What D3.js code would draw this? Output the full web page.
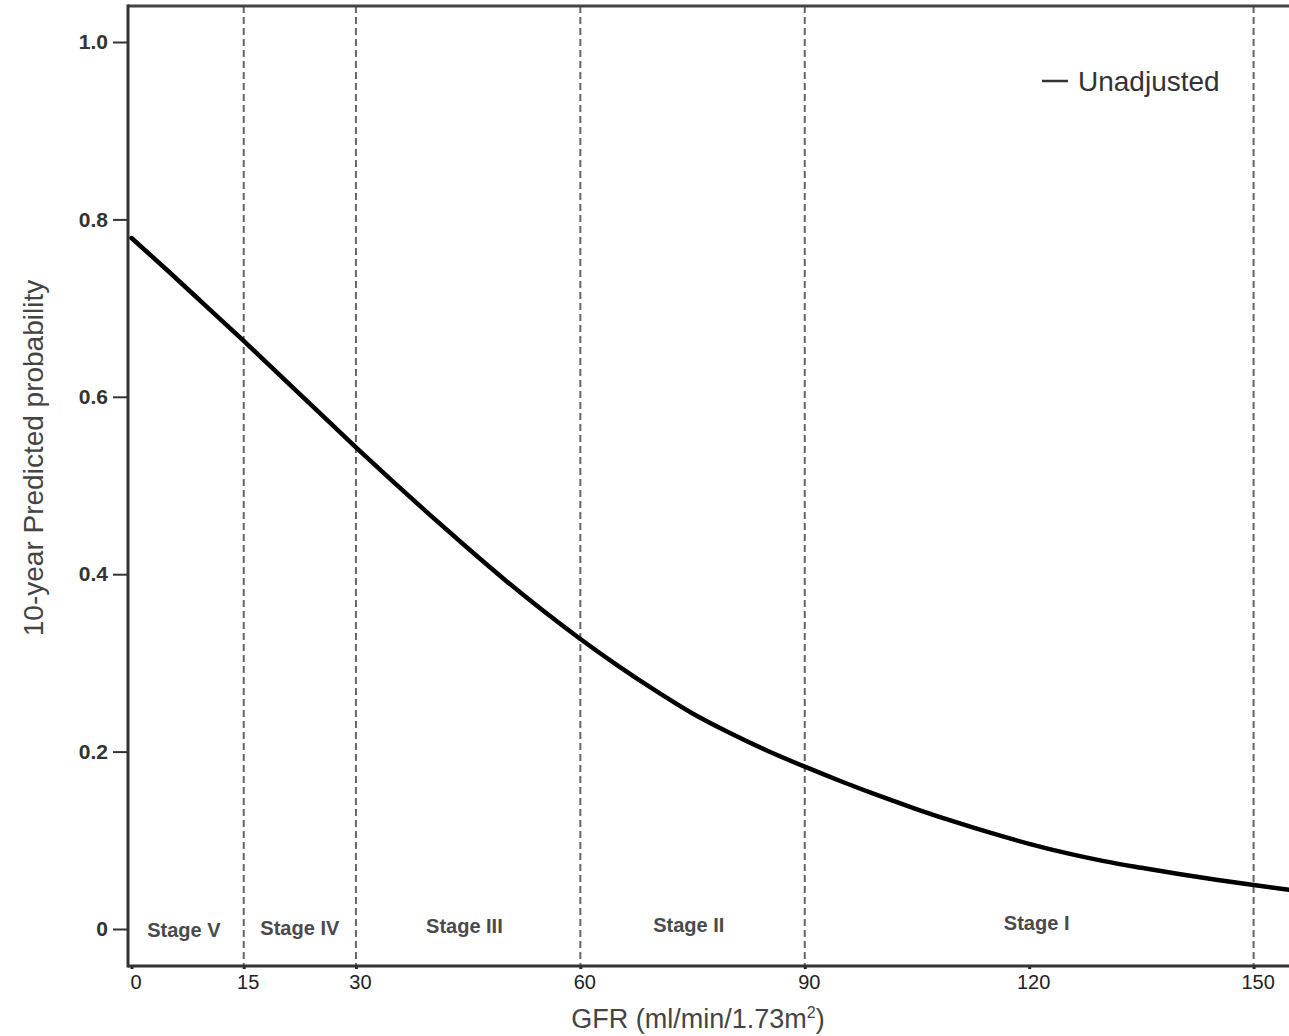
<!DOCTYPE html>
<html>
<head>
<meta charset="utf-8">
<script src="https://cdn.jsdelivr.net/npm/d3@7/dist/d3.min.js"></script>
<style>
  html, body { margin: 0; padding: 0; background: #fff; }
  svg { display: block; }
  text { font-family: "Liberation Sans", Arial, sans-serif; }
</style>
</head>
<body>
<svg id="chart" width="1289" height="1036"></svg>
<script>
// ---- Data ----
const gfr = [0, 5, 10, 15, 20, 25, 30, 35, 40, 45, 50, 55, 60, 65, 70, 75, 80, 85, 90, 95, 100, 105, 110, 115, 120, 125, 130, 135, 140, 145, 150, 155];
const unadjusted = [0.779, 0.741, 0.702, 0.663, 0.623, 0.583, 0.543, 0.504, 0.466, 0.429, 0.393, 0.359, 0.327, 0.297, 0.269, 0.243, 0.221, 0.201, 0.183, 0.166, 0.150, 0.135, 0.121, 0.108, 0.096, 0.0855, 0.0765, 0.069, 0.062, 0.0555, 0.0495, 0.044];
const xTicks = [0, 15, 30, 60, 90, 120, 150];
const yTicks = [0, 0.2, 0.4, 0.6, 0.8, 1.0];
const yTickLabels = ["0", "0.2", "0.4", "0.6", "0.8", "1.0"];
const cutoffs = [15, 30, 60, 90, 150];
const stageNames = ["Stage V", "Stage IV", "Stage III", "Stage II", "Stage I"];
const stageCenters = [7, 22.5, 44.5, 74.5, 121];
const stageYs = [0, 0.002, 0.004, 0.006, 0.008];
const seriesName = "Unadjusted";

// ---- Layout ----
const svg = d3.select("#chart");
const plotLeft = 128, plotRight = 1291, plotTop = 6, plotBottom = 966;
const x = d3.scaleLinear().domain([-0.47, 155]).range([plotLeft, plotRight]);
const y = d3.scaleLinear().domain([0, 1]).range([929, 42]);

// dashed stage boundaries
svg.append("g").selectAll("line").data(cutoffs).join("line")
  .attr("x1", d => x(d)).attr("x2", d => x(d))
  .attr("y1", plotTop).attr("y2", plotBottom)
  .attr("stroke", "#666").attr("stroke-width", 2)
  .attr("stroke-dasharray", "7,4");

// frame: top line
svg.append("line").attr("x1", plotLeft).attr("x2", 1289).attr("y1", plotTop).attr("y2", plotTop)
  .attr("stroke", "#444").attr("stroke-width", 3);

// y axis
const yAxis = d3.axisLeft(y).tickValues(yTicks).tickSize(15).tickPadding(5)
  .tickFormat((d, i) => yTickLabels[i]);
const gy = svg.append("g").attr("transform", `translate(${plotLeft},0)`).call(yAxis);
gy.select(".domain").remove();
gy.selectAll(".tick line").attr("stroke", "#333").attr("stroke-width", 2);
gy.selectAll(".tick text").attr("fill", "#333").attr("font-size", 21)
  .attr("font-weight", "bold").attr("font-family", "Liberation Sans, Arial, sans-serif");
svg.append("line").attr("x1", plotLeft).attr("x2", plotLeft).attr("y1", plotTop - 1.5).attr("y2", plotBottom + 1.5)
  .attr("stroke", "#333").attr("stroke-width", 3);

// x axis
const xAxis = d3.axisBottom(x).tickValues(xTicks).tickSize(3).tickPadding(6);
const gx = svg.append("g").attr("transform", `translate(0,${plotBottom})`).call(xAxis);
gx.select(".domain").remove();
gx.selectAll(".tick line").attr("stroke", "#222").attr("stroke-width", 3);
gx.selectAll(".tick text").attr("fill", "#222").attr("font-size", 20)
  .attr("dx", 4)
  .attr("font-family", "Liberation Sans, Arial, sans-serif");
svg.append("line").attr("x1", plotLeft).attr("x2", 1289).attr("y1", plotBottom).attr("y2", plotBottom)
  .attr("stroke", "#333").attr("stroke-width", 3);

// stage labels
svg.append("g").selectAll("text").data(stageNames).join("text")
  .attr("x", (d, i) => x(stageCenters[i]))
  .attr("y", (d, i) => y(stageYs[i]) + 8)
  .attr("text-anchor", "middle")
  .attr("font-size", 20).attr("font-weight", "bold").attr("fill", "#4a4a4a")
  .text(d => d);

// curve
const line = d3.line().x((d, i) => x(gfr[i])).y(d => y(d)).curve(d3.curveMonotoneX);
svg.append("path").datum(unadjusted)
  .attr("d", line).attr("fill", "none")
  .attr("stroke", "#000").attr("stroke-width", 4.5)
  .attr("stroke-linecap", "round");

// legend
svg.append("line").attr("x1", 1042).attr("x2", 1068).attr("y1", 81).attr("y2", 81)
  .attr("stroke", "#333").attr("stroke-width", 2.5);
svg.append("text").attr("x", 1078).attr("y", 91).attr("font-size", 28).attr("fill", "#333")
  .text(seriesName);

// axis titles
svg.append("text")
  .attr("transform", "translate(43,458) rotate(-90)")
  .attr("text-anchor", "middle").attr("font-size", 28).attr("fill", "#444")
  .text("10-year Predicted probability");

const xt = svg.append("text").attr("x", 698).attr("y", 1028)
  .attr("text-anchor", "middle").attr("font-size", 27).attr("fill", "#444")
  .attr("font-family", "Open Sans, sans-serif");
xt.append("tspan").text("GFR (ml/min/1.73m");
xt.append("tspan").attr("font-size", 16).attr("dy", -10).text("2");
xt.append("tspan").attr("dy", 10).text(")");
</script>
</body>
</html>
